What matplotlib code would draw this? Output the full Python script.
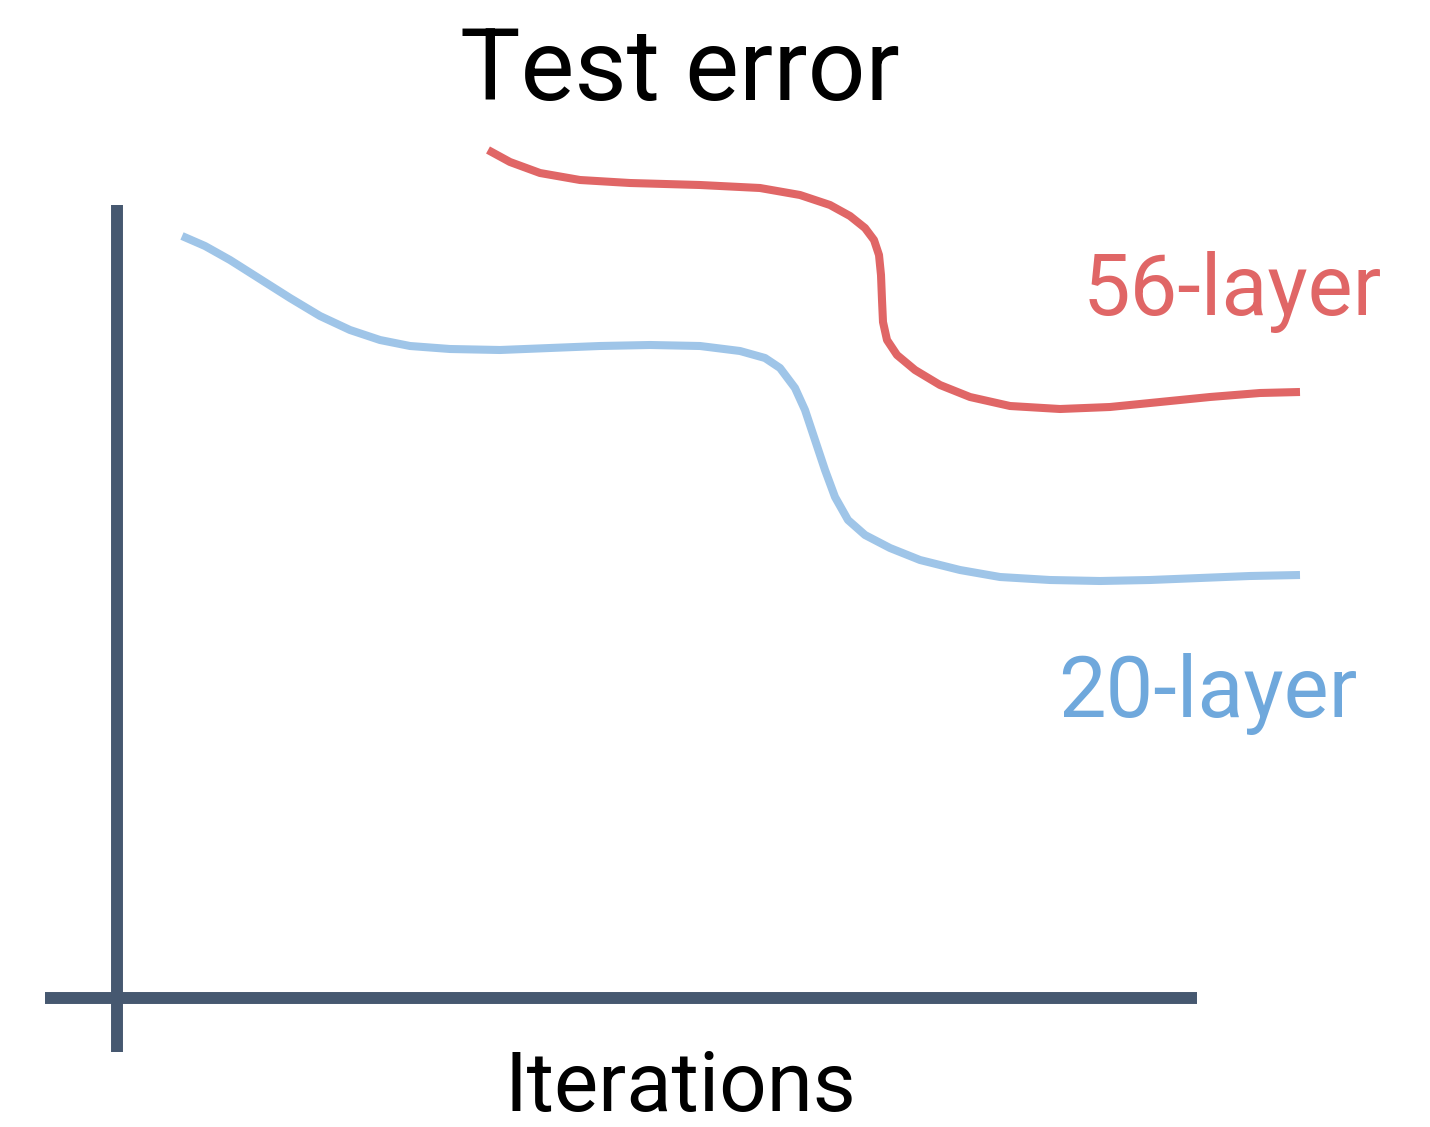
import matplotlib
matplotlib.use("Agg")
import matplotlib.pyplot as plt

plt.rcParams['font.family'] = ['Roboto', 'DejaVu Sans']

# curve data, x = iterations (arbitrary units), y = test error (arbitrary units)
iters_20 = [0.65, 0.88, 1.13, 1.43, 1.73, 2.03, 2.33, 2.63, 2.93, 3.33,
            3.83, 4.33, 4.83, 5.33, 5.83, 6.23, 6.48, 6.63, 6.78, 6.88,
            6.98, 7.08, 7.18, 7.31, 7.48, 7.73, 8.03, 8.43, 8.83, 9.33,
            9.83, 10.33, 10.83, 11.33, 11.83]
error_20 = [7.62, 7.52, 7.38, 7.19, 7.00, 6.82, 6.68, 6.58, 6.52, 6.49,
            6.48, 6.50, 6.52, 6.53, 6.52, 6.47, 6.40, 6.30, 6.10, 5.88,
            5.58, 5.28, 5.01, 4.78, 4.63, 4.50, 4.38, 4.28, 4.21, 4.18,
            4.17, 4.18, 4.20, 4.22, 4.23]

iters_56 = [3.71, 3.93, 4.23, 4.63, 5.13, 5.83, 6.43, 6.83, 7.13, 7.33,
            7.48, 7.57, 7.62, 7.64, 7.65, 7.66, 7.70, 7.80, 7.98, 8.23,
            8.53, 8.93, 9.43, 9.93, 10.43, 10.93, 11.43, 11.83]
error_56 = [8.48, 8.36, 8.25, 8.18, 8.15, 8.13, 8.10, 8.03, 7.93, 7.82,
            7.70, 7.58, 7.43, 7.23, 6.98, 6.76, 6.58, 6.43, 6.28, 6.13,
            6.01, 5.92, 5.89, 5.91, 5.96, 6.01, 6.05, 6.06]

red = "#E06666"
blue_line = "#9FC5E8"
blue_text = "#6FA8DC"
axis_col = "#465870"

fig = plt.figure(figsize=(14.3, 11.27), dpi=100)
ax = fig.add_axes([0, 0, 1, 1])
ax.set_xlim(-1.17, 13.13)
ax.set_ylim(-1.29, 9.98)
ax.axis("off")

# hand drawn axes
ax.plot([0, 0], [-0.54, 7.93], color=axis_col, lw=8.6, solid_capstyle="butt")
ax.plot([-0.72, 10.8], [0, 0], color=axis_col, lw=8.6, solid_capstyle="butt")

ax.plot(iters_20, error_20, color=blue_line, lw=5.8, solid_joinstyle="round",
        solid_capstyle="butt")
ax.plot(iters_56, error_56, color=red, lw=5.8, solid_joinstyle="round",
        solid_capstyle="butt")

ax.text(5.63, 8.98, "Test error", fontsize=73, ha="center", va="baseline")
ax.text(5.63, -1.13, "Iterations", fontsize=60, ha="center", va="baseline")
ax.text(12.65, 6.83, "56-layer", fontsize=61, ha="right", va="baseline",
        color=red)
ax.text(12.41, 2.81, "20-layer", fontsize=61, ha="right", va="baseline",
        color=blue_text)

fig.savefig("out.png", dpi=100)
